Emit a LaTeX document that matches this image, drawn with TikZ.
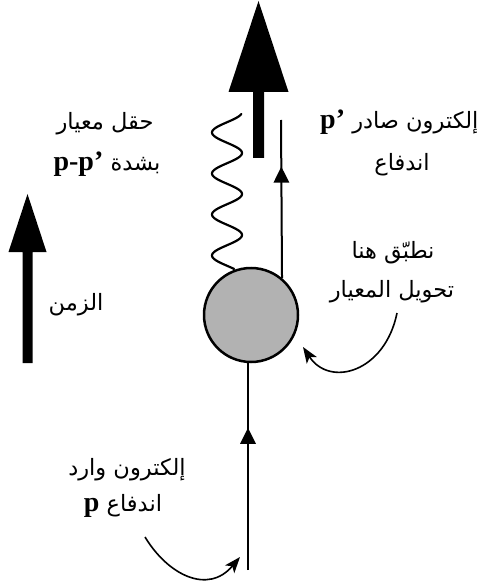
\documentclass[tikz,border=0pt]{standalone}
\usepackage{fontspec}
\usetikzlibrary{arrows.meta,decorations.markings}
\TeXXeTstate=1
\newfontfamily\arabicfont[Script=Arabic]{DejaVu Sans}
\newfontfamily\pfont{Liberation Serif}
\newcommand{\pmom}[1]{\beginL{\pfont\bfseries\fontsize{28}{30}\selectfont #1}\endL}
\tikzset{
  ar/.style={font=\arabicfont\fontsize{22.5}{26}\selectfont, inner sep=0pt, anchor=center},
  electron/.style={line width=2pt},
  midarrow/.style={postaction={decorate},decoration={markings,
      mark=at position #1 with {\fill (8,0) -- (-8,8) -- (-8,-8) -- cycle;}}},
  bigarrow/.style={fill=black, draw=none},
  pointer/.style={line width=1.6pt, -{Stealth[length=16pt,width=12pt,inset=4pt]}},
  blobstyle/.style={circle, draw, line width=2.5pt, fill=black!30, minimum size=94pt, inner sep=0pt},
}
\begin{document}
\begin{tikzpicture}[x=1pt,y=-1pt]
\useasboundingbox (0,0) rectangle (481,585);

% big outgoing arrow
\fill[bigarrow] (258.5,1) -- (288.5,92) -- (264,92) -- (264,158) -- (253,158) -- (253,92) -- (228.5,92) -- cycle;
% time arrow
\fill[bigarrow] (27.5,194) -- (46.5,252) -- (32.5,252) -- (32.5,363) -- (22.5,363) -- (22.5,252) -- (8.5,252) -- cycle;

% vertex blob
\node[blobstyle] (blob) at (251,315) {};

% electron lines
\coordinate (outtop) at (281,120);
\coordinate (inbot) at (248,570);
\draw[electron, midarrow=0.654] (blob.50) -- (outtop);
\draw[electron, midarrow=0.649] (inbot) -- (inbot |- blob.south);

% gauge field (wavy line)
\draw[line width=2.2pt, line cap=round] plot[domain=114:269, samples=160, smooth]
  ({227+15*cos(8.7805*(\x-153))}, \x);

% labels
\node[ar] (gauge1) at (105,124) {\beginR حقل معيار\endR};
\node[ar] (gauge2) at (107,164) {\beginR بشدة \pmom{p-p’}\endR};
\node[ar, anchor=west] (out1) at (320,122) {\beginR إلكترون صادر \pmom{p’}\endR};
\node[ar] (out2) at (402,165) {\beginR اندفاع\endR};
\node[ar] (apply1) at (393,253) {\beginR نطبّق هنا\endR};
\node[ar] (apply2) at (392,292) {\beginR تحويل المعيار\endR};
\node[ar] (time) at (76,305) {\beginR الزمن\endR};
\node[ar] (in1) at (127,470) {\beginR إلكترون وارد\endR};
\node[ar] (in2) at (123,506) {\beginR اندفاع \pmom{p}\endR};

% pointers
\coordinate (gstart) at (397,313);
\coordinate (gtip) at (303,347);
\draw[pointer] (gstart) .. controls (385,372) and (330,388) .. (gtip);
\coordinate (istart) at (145,537);
\coordinate (itip) at (240,557);
\draw[pointer] (istart) .. controls (168,575) and (208,595) .. (itip);
\end{tikzpicture}
\end{document}
